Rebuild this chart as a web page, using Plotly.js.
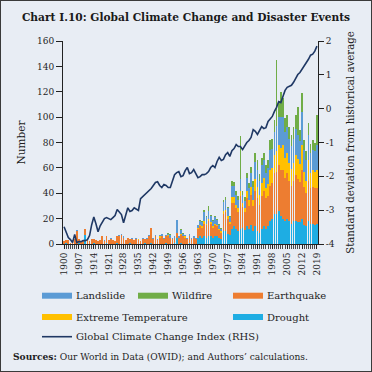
<!DOCTYPE html>
<html><head><meta charset="utf-8">
<script src="https://cdn.plot.ly/plotly-3.0.1.min.js"></script>
<style>
html,body{margin:0;padding:0;background:#E8EDF4;}
#wrap{width:372px;height:372px;position:relative;overflow:hidden;}
#chart{position:absolute;left:0;top:0;width:372px;height:372px;}
#frame{position:absolute;left:0;top:0;width:372px;height:372px;box-sizing:border-box;border:1px solid #3a3a3a;pointer-events:none;}
</style></head>
<body><div id="wrap"><div id="chart"></div><div id="frame"></div></div>
<script>
// ---------------- data ----------------
const firstYear = 1900, lastYear = 2019;
const years = [];
for (let y = firstYear; y <= lastYear; y++) years.push(y);

const drought = [
 0,1,0,0,0,0,0,1,0,0, 7,0,0,0,1,0,0,0,0,0, 1,0,0,0,0,1,0,0,0,0, 0,1,0,0,0,0,0,0,1,0,
 0,1,0,0,0,0,0,0,1,0, 0,0,1,5,0,1,0,0,0,1, 0,0,0,5,6,5,6,5,6,6, 5,6,6,5,4,10,10,8,7,12,
 14,12,10,12,13,11,14,12,15,10, 14,10,9,12,14,12,14,18,20,24, 24,26,22,20,18,20,18,16,18,18, 17,17,20,15,14,18,16,16,15,16];
const earthquake = [
 2,2,3,1,2,4,10,3,2,3, 5,3,2,4,3,3,2,3,6,2, 5,3,4,3,2,5,6,7,5,3, 5,3,4,3,4,3,2,4,3,4,
 6,12,4,6,3,5,6,4,5,6, 5,4,4,4,5,6,6,5,4,5, 4,5,4,7,8,8,10,10,12,10, 8,9,8,6,5,14,15,12,9,20,
 18,16,15,26,16,14,22,18,24,20, 28,26,22,26,28,24,24,28,28,32, 33,36,36,38,34,36,32,30,32,36, 34,32,38,30,26,32,28,29,29,28];
const extremeTemp = [
 0,0,0,0,0,0,0,0,0,0, 0,0,0,0,0,0,0,0,0,0, 0,0,0,0,0,0,0,0,0,0, 0,0,0,0,0,1,0,0,0,0,
 0,0,0,0,0,1,0,0,0,1, 0,0,0,0,0,1,0,1,0,0, 0,0,0,1,1,1,2,1,2,1, 1,1,1,1,1,2,2,2,1,5,
 5,3,3,4,3,3,6,5,6,5, 9,9,8,10,10,8,9,12,12,14, 16,16,18,20,16,16,14,13,14,16, 16,14,20,12,10,16,12,13,13,14];
const landslide = [
 0,0,0,0,1,0,1,0,0,0, 0,0,0,0,0,0,0,0,0,1, 0,0,1,0,0,0,1,1,1,0, 0,0,1,0,1,0,0,1,0,1,
 1,0,1,1,1,1,2,1,1,1, 2,1,1,10,1,3,2,1,1,2, 1,1,1,2,3,3,7,5,6,5, 4,5,4,3,2,7,8,6,4,9,
 9,8,7,9,7,6,10,9,11,10, 14,13,11,14,14,12,13,16,15,18, 20,22,24,22,20,20,19,18,19,21, 19,18,26,17,16,20,16,16,16,20];
const wildfire = [
 0,0,0,0,0,0,0,0,0,0, 0,0,0,0,0,0,0,0,0,0, 0,0,0,0,0,0,0,0,0,0, 0,0,0,0,0,0,0,0,0,0,
 0,0,0,0,0,0,0,0,0,1, 1,0,0,0,0,1,1,0,0,0, 0,0,0,0,1,1,2,1,4,1, 1,1,1,1,1,2,2,1,1,4,
 3,3,3,34,3,3,4,4,5,5, 7,8,5,6,6,6,6,8,8,10, 52,13,20,15,11,10,9,9,9,11, 22,9,15,8,7,9,7,8,7,24];
const climateIndex = [
 -3.49,-3.67,-3.81,-3.87,-3.96,-3.72,-3.96,-3.93,-3.93,-3.90,
 -3.90,-3.87,-3.75,-3.43,-3.20,-3.40,-3.64,-3.46,-3.34,-3.25,
 -3.22,-3.25,-3.28,-3.22,-3.16,-2.98,-3.07,-3.13,-3.37,-3.13,
 -2.93,-3.04,-3.01,-2.93,-2.98,-3.01,-2.66,-2.60,-2.54,-2.45,
 -2.42,-2.36,-2.27,-2.18,-2.16,-2.27,-2.33,-2.24,-2.27,-2.33,
 -2.33,-2.16,-1.95,-1.89,-1.86,-2.01,-1.98,-1.83,-1.74,-1.92,
 -1.89,-1.80,-1.92,-2.04,-2.01,-1.95,-1.95,-1.92,-1.86,-1.74,
 -1.68,-1.74,-1.56,-1.44,-1.53,-1.50,-1.36,-1.30,-1.41,-1.24,
 -1.18,-1.06,-1.12,-1.12,-1.21,-1.09,-1.00,-0.94,-0.85,-0.62,
 -0.67,-0.76,-0.62,-0.53,-0.59,-0.56,-0.38,-0.29,-0.23,-0.08,
 0.04,0.21,0.18,0.36,0.54,0.63,0.66,0.69,0.78,0.90,
 1.01,1.07,1.16,1.25,1.37,1.46,1.58,1.61,1.70,1.85];

const seriesNames = ['Landslide','Wildfire','Earthquake','Extreme Temperature','Drought'];
const lineName = 'Global Climate Change Index (RHS)';
const rhsTickVals = [-4,-3,-2,-1,0,1,2];
const rhsTickText = ['-4','-3','-2','-1','0','1','2'];

// ---------------- styling ----------------
const colors = {
  'Landslide':'#5B9BD5', 'Wildfire':'#70AD47', 'Earthquake':'#ED7D31',
  'Extreme Temperature':'#FFC000', 'Drought':'#1EADE3'
};
const lineColor = '#1F3864';
const bg = '#E8EDF4';
const FONT = 'DejaVu Serif';
const TXT = '#1e1e1e';

const seriesData = {
  'Drought':drought, 'Earthquake':earthquake, 'Extreme Temperature':extremeTemp,
  'Landslide':landslide, 'Wildfire':wildfire
};
const stackOrder = ['Drought','Earthquake','Extreme Temperature','Landslide','Wildfire'];

const traces = stackOrder.map(n => ({
  type:'bar', name:n, x:years, y:seriesData[n],
  marker:{color:colors[n], line:{width:0}}, showlegend:false, hoverinfo:'skip'
}));
traces.push({
  type:'scatter', mode:'lines', name:lineName, x:years, y:climateIndex, yaxis:'y2',
  line:{color:lineColor, width:1.6}, showlegend:false, hoverinfo:'skip'
});

// plot area in pixels
const L = 63, R = 318, T = 41, B = 244;
const px = x => (x - L) / (R - L);
const py = y => (B - y) / (B - T);

// manual legend
const legendItems = [
  {name:'Landslide', col:42, row:295.7},
  {name:'Wildfire', col:138, row:295.7},
  {name:'Earthquake', col:233, row:295.7},
  {name:'Extreme Temperature', col:42, row:317},
  {name:'Drought', col:233, row:317}
];
const shapes = [];
const annotations = [];
legendItems.forEach(it => {
  shapes.push({type:'rect', xref:'paper', yref:'paper',
    x0:px(it.col), x1:px(it.col+30), y0:py(it.row+3), y1:py(it.row-3),
    fillcolor:colors[it.name], line:{width:0}});
  annotations.push({xref:'paper', yref:'paper', x:px(it.col+32), y:py(it.row),
    xanchor:'left', yanchor:'middle', showarrow:false, text:it.name,
    font:{family:FONT, size:10, color:TXT}});
});
shapes.push({type:'line', xref:'paper', yref:'paper', x0:px(42), x1:px(72),
  y0:py(336.7), y1:py(336.7), line:{color:lineColor, width:1.6}});
annotations.push({xref:'paper', yref:'paper', x:px(74), y:py(336.7),
  xanchor:'left', yanchor:'middle', showarrow:false, text:lineName,
  font:{family:FONT, size:10, color:TXT}});
annotations.push({xref:'paper', yref:'paper', x:px(11), y:py(356),
  xanchor:'left', yanchor:'middle', showarrow:false,
  text:'<b>Sources:</b> Our World in Data (OWID); and Authors’ calculations.',
  font:{family:FONT, size:9.1, color:TXT}});

const layout = {
  width:372, height:372,
  margin:{l:L, r:372-R, t:T, b:372-B, pad:0},
  paper_bgcolor:bg, plot_bgcolor:bg,
  barmode:'stack', bargap:0.18,
  font:{family:FONT, color:TXT},
  title:{text:'<b>Chart I.10: Global Climate Change and Disaster Events</b>',
    font:{family:FONT, size:10.65, color:'#1a1a1a'},
    xref:'container', x:0.5, xanchor:'center', yref:'container', y:1-17.5/372, yanchor:'middle'},
  xaxis:{range:[firstYear-0.5, lastYear+0.5], tickmode:'linear', tick0:1900, dtick:7,
    tickangle:-90, ticks:'outside', ticklen:4, tickcolor:'#222', tickwidth:1,
    minor:{dtick:1, tick0:1900, ticks:'outside', ticklen:4, tickcolor:'#222', tickwidth:0.8},
    showline:true, linecolor:'#222', linewidth:1, showgrid:false, zeroline:false,
    tickfont:{family:FONT, size:9, color:TXT}},
  yaxis:{range:[0,160], dtick:20, ticks:'outside', ticklen:6, tickcolor:'#222',
    showline:true, linecolor:'#222', linewidth:1, showgrid:false, zeroline:false,
    tickfont:{family:FONT, size:9, color:TXT},
    title:{text:'Number', font:{family:FONT, size:10.5, color:TXT}, standoff:9}},
  yaxis2:{overlaying:'y', side:'right', range:[-4,2], tickmode:'array',
    tickvals:rhsTickVals, ticktext:rhsTickText, ticks:'outside', ticklen:5, tickcolor:'#222',
    showline:true, linecolor:'#222', linewidth:1, showgrid:false, zeroline:false,
    tickfont:{family:FONT, size:9, color:TXT},
    title:{text:'Standard deviation from historical average', font:{family:FONT, size:10.2, color:TXT}, standoff:13}},
  shapes:shapes, annotations:annotations
};

Plotly.newPlot('chart', traces, layout, {staticPlot:true, displayModeBar:false});
</script>
</body></html>
